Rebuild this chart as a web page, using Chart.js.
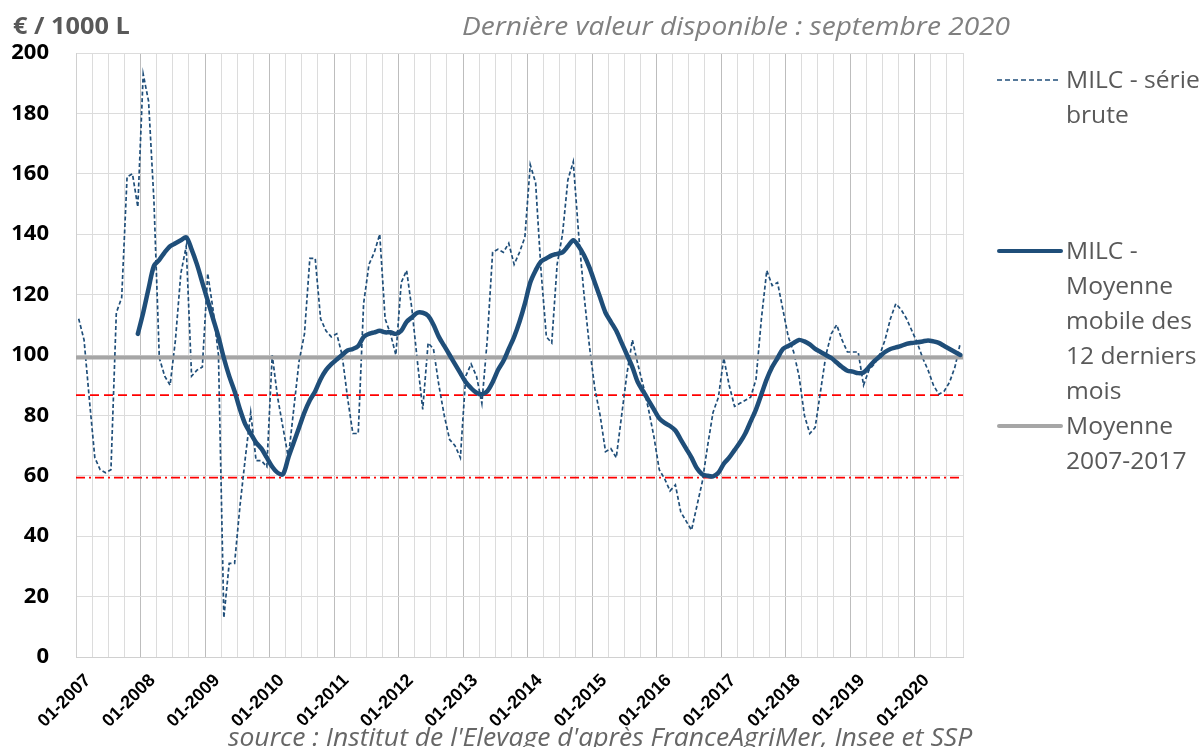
<!DOCTYPE html>
<html>
<head>
<meta charset="utf-8">
<script src="https://cdn.jsdelivr.net/npm/chart.js@4.4.1/dist/chart.umd.min.js"></script>
<style>
  body { margin: 0; background: #fff; }
  #wrap { position: relative; width: 1204px; height: 747px; overflow: hidden; }
  #chart { position: absolute; left: 0; top: 0; }
  .txt { position: absolute; font-family: 'Open Sans', sans-serif; color: #595959; white-space: nowrap; transform-origin: 0 0; }
  #unit { left: 13px; top: 9px; font-size: 23px; font-weight: bold; transform: scaleX(1.1); }
  #title { left: 462px; top: 7px; font-size: 26px; font-style: italic; color: #808080; transform: scaleX(1.08); }
  #source { left: 228px; top: 718px; font-size: 26px; font-style: italic; color: #666; transform: scaleX(1.02); }
  .leg { position: absolute; left: 997px; font-family: 'Open Sans', sans-serif; color: #595959; font-size: 23px; line-height: 35px; }
  .leg svg { position: absolute; left: 0; top: 0; }
  .leg .lab { margin-left: 69px; white-space: nowrap; transform: scaleX(1.07); transform-origin: 0 0; }
</style>
</head>
<body>
<div id="wrap">
  <canvas id="chart" width="1204" height="747"></canvas>
  <div class="txt" id="unit">€ / 1000 L</div>
  <div class="txt" id="title">Dernière valeur disponible : septembre 2020</div>
  <div class="txt" id="source">source : Institut de l'Elevage d'après FranceAgriMer, Insee et SSP</div>

  <div class="leg" style="top:62px">
    <svg width="66" height="35"><line x1="0" y1="18" x2="64" y2="18" stroke="#1f4e79" stroke-width="1.5" stroke-dasharray="5,3"/></svg>
    <div class="lab">MILC - série<br>brute</div>
  </div>
  <div class="leg" style="top:233px">
    <svg width="66" height="35"><line x1="2" y1="18" x2="64" y2="18" stroke="#1f4e79" stroke-width="4" stroke-linecap="round"/></svg>
    <div class="lab">MILC -<br>Moyenne<br>mobile des<br>12 derniers<br>mois</div>
  </div>
  <div class="leg" style="top:408px">
    <svg width="66" height="35"><line x1="2" y1="18" x2="64" y2="18" stroke="#a6a6a6" stroke-width="4" stroke-linecap="round"/></svg>
    <div class="lab">Moyenne<br>2007-2017</div>
  </div>
</div>

<script>
// one point per month, 01-2007 .. 09-2020
const yearTicks = ['01-2007', '01-2008', '01-2009', '01-2010', '01-2011', '01-2012', '01-2013',
                   '01-2014', '01-2015', '01-2016', '01-2017', '01-2018', '01-2019', '01-2020'];

const rawSeries = [
  112, 105, 85, 66, 62, 61, 62, 114, 119, 159, 160, 149,      // 2007
  193, 184, 151, 99, 93, 90, 105, 127, 136, 93, 95, 96,       // 2008
  127, 115, 100, 13, 31, 31, 50, 66, 81, 65, 65, 63,          // 2009
  100, 86, 76, 66, 82, 98, 107, 132, 132, 112, 108, 106,      // 2010
  107, 100, 86, 74, 74, 117, 130, 134, 140, 112, 107, 100,    // 2011
  124, 128, 115, 98, 82, 104, 102, 90, 80, 72, 70, 66,        // 2012
  93, 97, 93, 84, 105, 134, 135, 134, 137, 130, 134, 139,     // 2013
  163, 157, 128, 106, 104, 130, 140, 158, 164, 140, 120, 103, // 2014
  89, 80, 68, 69, 66, 80, 94, 105, 97, 90, 82, 73,            // 2015
  62, 59, 55, 57, 48, 45, 42, 50, 58, 70, 81, 86,             // 2016
  99, 90, 83, 84, 85, 86, 92, 112, 128, 123, 124, 115,        // 2017
  106, 101, 93, 80, 74, 76, 88, 100, 107, 110, 105, 101,      // 2018
  101, 101, 90, 95, 97, 100, 105, 112, 117, 115, 112, 108,    // 2019
  104, 99, 95, 90, 87, 88, 91, 96, 104                        // 2020
];

const movingAvg = [
  null, null, null, null, null, null, null, null, null, null, null, 107,
  114, 122, 129.5, 131.5, 134, 136, 137, 138, 139, 135, 130, 124,
  118, 112, 106, 99, 93, 88, 82, 77, 74, 71, 69, 66,
  63, 61, 60.5, 66, 71, 76, 81, 85, 88, 92, 95, 97,
  98.5, 100, 101.5, 102, 103, 106, 107, 107.5, 108, 107.5, 107.5, 107,
  108, 111, 112.5, 114, 114, 113, 110, 106, 103, 100, 97, 94,
  91, 89, 87.5, 87, 88, 91, 95, 98, 102, 106, 111, 117,
  124, 128, 131, 132, 133, 133.5, 134, 136, 138, 136, 133, 129,
  124, 119, 114, 111, 108, 104, 100, 96, 91, 88, 85, 82,
  79, 77.5, 76.5, 75, 72, 69, 66, 62.5, 60.5, 60, 59.8, 61,
  64, 66, 68.5, 71, 74, 78, 82, 87, 92, 96, 99, 102,
  103, 104, 105, 104.5, 103.5, 102, 101, 100, 99, 97.5, 96, 94.8,
  94.5, 94, 94.2, 96, 98, 99.5, 101, 102, 102.5, 103, 103.7, 104,
  104.2, 104.5, 104.8, 104.5, 104, 103, 102, 101, 100
];

const mean20072017 = 99.2;
const lowerDashed = 86.7;
const lowerDashDot = 59.4;
const nMonths = 165;

const BLUE = '#1f4e79';

function toPoints(values) {
    return values.map((v, i) => ({ x: i + 0.5, y: v }));
}

function flatLine(v) {
    return [{ x: 0, y: v }, { x: nMonths, y: v }];
}

Chart.defaults.font.family = "'Open Sans', sans-serif";

new Chart(document.getElementById('chart'), {
    type: 'line',
    data: {
        datasets: [
            {
                label: 'MILC - Moyenne mobile des 12 derniers mois',
                data: toPoints(movingAvg),
                borderColor: BLUE,
                borderWidth: 4.5,
                pointRadius: 0,
                tension: 0.3,
                borderCapStyle: 'round',
                borderJoinStyle: 'round',
            },
            {
                label: 'Moyenne 2007-2017',
                data: flatLine(mean20072017),
                borderColor: '#a6a6a6',
                borderWidth: 4,
                pointRadius: 0,
            },
            {
                label: 'MILC - série brute',
                data: toPoints(rawSeries),
                borderColor: BLUE,
                borderWidth: 1.7,
                borderDash: [4, 2.5],
                pointRadius: 0,
                tension: 0,
            },
            {
                label: 'seuil 1',
                data: flatLine(lowerDashed),
                borderColor: '#ff0000',
                borderWidth: 1.8,
                borderDash: [9, 5],
                pointRadius: 0,
            },
            {
                label: 'seuil 2',
                data: flatLine(lowerDashDot),
                borderColor: '#ff0000',
                borderWidth: 1.8,
                borderDash: [9, 4, 2, 4],
                pointRadius: 0,
            },
        ],
    },
    options: {
        responsive: false,
        animation: false,
        layout: { padding: { top: 53, right: 241, left: 0, bottom: 0 } },
        plugins: {
            legend: { display: false },
            tooltip: { enabled: false },
        },
        scales: {
            x: {
                type: 'linear',
                min: 0,
                max: nMonths,
                afterFit: (scale) => { scale.height = 90; },
                grid: {
                    drawTicks: false,
                    color: (ctx) => (ctx.tick && ctx.tick.value % 12 === 0) ? '#bdbdbd' : '#dcdcdc',
                },
                border: { color: '#d0d0d0' },
                ticks: {
                    stepSize: 3,
                    autoSkip: false,
                    maxRotation: 45,
                    minRotation: 45,
                    padding: 13,
                    labelOffset: 12,
                    color: '#000',
                    font: { family: "'Liberation Sans', Arial, sans-serif", size: 18, weight: 'bold' },
                    callback: (v) => (v % 12 === 0 && v / 12 < yearTicks.length) ? yearTicks[v / 12] : '',
                },
            },
            y: {
                min: 0,
                max: 200,
                afterFit: (scale) => { scale.width = 76; },
                grid: { drawTicks: false, color: '#dcdcdc' },
                border: { color: '#d0d0d0' },
                ticks: {
                    stepSize: 20,
                    padding: 27,
                    color: '#000',
                    font: { size: 22, weight: 'bold' },
                },
            },
        },
    },
});
</script>
</body>
</html>
